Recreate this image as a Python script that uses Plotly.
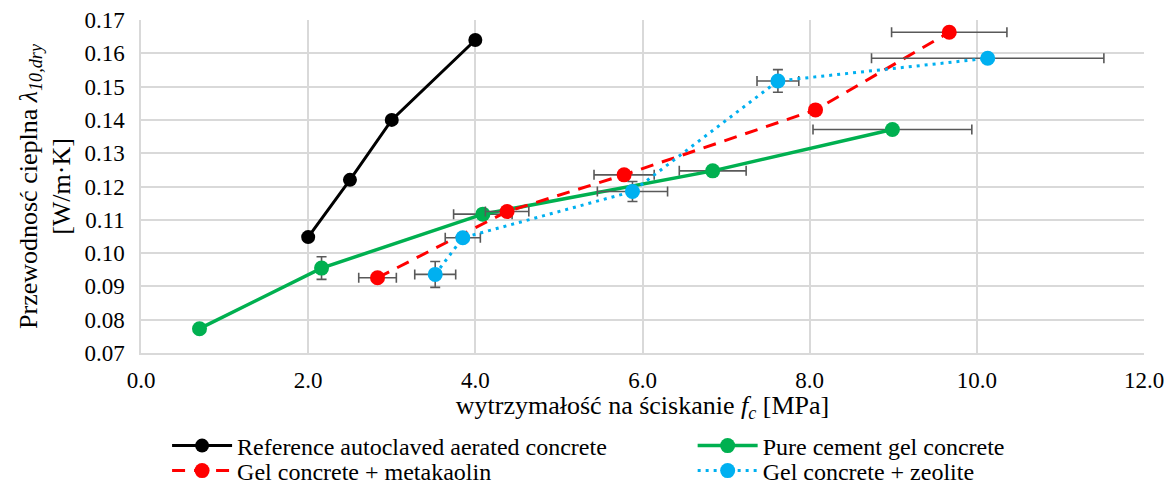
import plotly.graph_objects as go

FONT = "Liberation Serif, Times New Roman, DejaVu Serif, serif"

# Reference autoclaved aerated concrete
aac_x = [2.0, 2.5, 3.0, 4.0]
aac_y = [0.1048, 0.1220, 0.1400, 0.1640]

# Pure cement gel concrete
pure_x = [0.70, 2.16, 4.09, 6.84, 8.99]
pure_y = [0.0773, 0.0955, 0.1117, 0.1247, 0.1371]
pure_ex = [0.0, 0.0, 0.35, 0.40, 0.95]
pure_ey = [0.0012, 0.0034, 0.0, 0.0010, 0.0]

# Gel concrete + metakaolin
meta_x = [2.83, 4.38, 5.78, 8.07, 9.67]
meta_y = [0.0926, 0.1125, 0.1235, 0.1430, 0.1663]
meta_ex = [0.225, 0.26, 0.36, 0.0, 0.69]

# Gel concrete + zeolite
zeo_x = [3.52, 3.85, 5.88, 7.62, 10.13]
zeo_y = [0.0936, 0.1046, 0.1185, 0.1517, 0.1585]
zeo_ex = [0.245, 0.21, 0.42, 0.25, 1.39]
zeo_ey = [0.0039, 0.0, 0.0030, 0.0034, 0.0]

x_ticks = [0, 2, 4, 6, 8, 10, 12]
y_ticks = [0.07, 0.08, 0.09, 0.10, 0.11, 0.12, 0.13, 0.14, 0.15, 0.16, 0.17]

ERR = "#595959"

def err(v):
    return dict(type="data", array=v, visible=True, color=ERR, thickness=1.6, width=5)

fig = go.Figure()

fig.add_trace(go.Scatter(
    x=aac_x, y=aac_y, mode="lines+markers", name="Reference autoclaved aerated concrete",
    line=dict(color="#000000", width=3), marker=dict(size=14, color="#000000"),
    legend="legend", showlegend=True))

fig.add_trace(go.Scatter(
    x=pure_x, y=pure_y, mode="lines+markers", name="Pure cement gel concrete",
    line=dict(color="#00b050", width=3.5), marker=dict(size=15, color="#00b050"),
    error_x=err(pure_ex), error_y=err(pure_ey), legend="legend2", showlegend=True))

fig.add_trace(go.Scatter(
    x=meta_x, y=meta_y, mode="lines+markers", name="Gel concrete + metakaolin",
    line=dict(color="#ff0000", width=3, dash="13px,9px"), marker=dict(size=15, color="#ff0000"),
    error_x=err(meta_ex), legend="legend3", showlegend=True))

fig.add_trace(go.Scatter(
    x=zeo_x, y=zeo_y, mode="lines+markers", name="Gel concrete + zeolite",
    line=dict(color="#00b0f0", width=3, dash="3px,5px"), marker=dict(size=15, color="#00b0f0"),
    error_x=err(zeo_ex), error_y=err(zeo_ey), legend="legend4", showlegend=True))

leg_common = dict(
    orientation="v", xanchor="left", yanchor="middle", yref="container",
    font=dict(family=FONT, size=24, color="#000000"),
    bgcolor="rgba(0,0,0,0)", itemwidth=60,
)

row1 = 1 - 446 / 484
row2 = 1 - 471 / 484

fig.update_layout(
    width=1168, height=484, showlegend=True,
    margin=dict(l=141, r=24, t=20, b=131, autoexpand=False),
    paper_bgcolor="white", plot_bgcolor="white",
    font=dict(family=FONT, size=23, color="#000000"),
    legend=dict(x=0.026, y=row1, **leg_common),
    legend2=dict(x=0.550, y=row1, **leg_common),
    legend3=dict(x=0.026, y=row2, **leg_common),
    legend4=dict(x=0.550, y=row2, **leg_common),
    xaxis=dict(
        range=[0, 12], tickvals=x_ticks, ticktext=[f"{v:.1f}" for v in x_ticks],
        showgrid=True, gridcolor="#d9d9d9", gridwidth=1.5,
        showline=True, linecolor="#d9d9d9", linewidth=1.5,
        zeroline=False, ticks="", ticklabelstandoff=6,
        tickfont=dict(family=FONT, size=23),
        title=dict(text="wytrzymałość na ściskanie <i>f<sub>c</sub></i> [MPa]",
                   font=dict(family=FONT, size=26), standoff=6),
    ),
    yaxis=dict(
        range=[0.07, 0.17], tickvals=y_ticks, ticktext=[f"{v:.2f}" for v in y_ticks],
        showgrid=True, gridcolor="#d9d9d9", gridwidth=1.5,
        showline=True, linecolor="#d9d9d9", linewidth=1.5,
        zeroline=False, ticks="", ticklabelstandoff=10,
        tickfont=dict(family=FONT, size=23),
        title=dict(text="Przewodnosć cieplna <i>λ<sub>10,dry</sub></i><br>[W/m·K]",
                   font=dict(family=FONT, size=26), standoff=6),
    ),
)

fig.write_html("out.html")
